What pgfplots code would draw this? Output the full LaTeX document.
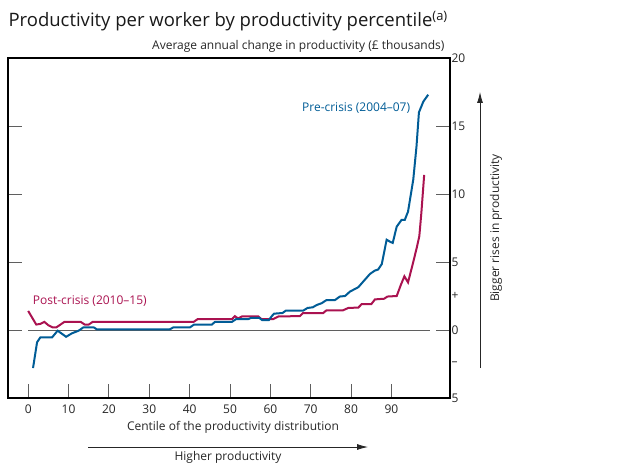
\documentclass[border=0pt]{standalone}
\usepackage{fontspec}
\setmainfont{Open Sans}
\usepackage{pgfplots}
\pgfplotsset{compat=1.18}
\usetikzlibrary{arrows.meta}
\definecolor{preblue}{RGB}{0,92,150}
\definecolor{postred}{RGB}{170,18,80}
\definecolor{tickgray}{RGB}{95,95,95}
\begin{document}
\begin{tikzpicture}
\path[use as bounding box] (0pt,0pt) rectangle (620pt,463pt);
\begin{axis}[
  at={(8pt,65pt)}, anchor=south west,
  width=442pt, height=340pt, scale only axis,
  xmin=-5, xmax=104.5, ymin=-5, ymax=20,
  axis line style={black, line width=1.1pt},
  xtick={0,10,...,90},
  ytick={-5,0,5,10,15,20},
  yticklabels={5,0,5,10,15,20},
  extra y ticks={2.5,-2.5},
  extra y tick labels={+,--},
  extra y tick style={major tick length=0pt},
  tick align=inside,
  xtick pos=lower, yticklabel pos=right, ytick pos=both,
  major tick length=14pt,
  tick style={tickgray, line width=1pt},
  tick label style={font=\fontsize{12}{14}\selectfont, text=black!85},
  xticklabel style={yshift=-3pt},
  yticklabel style={xshift=-2pt},
  /pgf/number format/assume math mode=true,
  clip=false,
]
\addplot[tickgray, line width=1pt] coordinates {(0,0) (99.5,0)};
% Post-crisis (2010-15)
\addplot[postred, line width=2pt] coordinates {
(0,1.4) (1,0.9) (2,0.4) (3,0.45) (4,0.6) (5,0.35) (6,0.2) (7,0.2) (8,0.4) (9,0.6)
(13,0.6) (14,0.4) (15,0.4) (16,0.6) (41,0.6) (42,0.8) (50.5,0.8) (51.2,1.02)
(52,0.85) (53,1.0) (57,1.0) (57.8,0.8) (60.7,0.8) (62,1.0) (67.3,1.02) (68.1,1.25)
(73.1,1.25) (73.9,1.45) (78,1.45) (79.3,1.62) (81.8,1.65) (82.6,1.9) (85,1.9)
(85.9,2.25) (88.2,2.3) (89,2.46) (91.3,2.5) (92.3,3.3) (93.2,3.95) (94.1,3.5)
(95.4,5.0) (96.3,6.1) (96.9,6.9) (97.4,8.6) (98.1,11.4)
};
% Pre-crisis (2004-07)
\addplot[preblue, line width=2pt] coordinates {
(1.2,-2.8) (2.2,-0.9) (3,-0.55) (5.9,-0.55) (7.3,-0.05) (9.4,-0.5) (10.8,-0.25)
(12.5,-0.05) (13.7,0.2) (16.2,0.2) (17,0.05) (35.1,0.05) (36,0.2) (40.1,0.2)
(41.1,0.4) (45.5,0.4) (46.3,0.6) (50.5,0.6) (51.5,0.8) (54.5,0.8) (55.3,0.9)
(57.2,0.9) (58,0.72) (59.6,0.72) (60.3,1.0) (60.9,1.2) (63,1.25) (63.8,1.42)
(68.1,1.42) (69.2,1.62) (70.5,1.67) (71.5,1.84) (72.7,1.97) (73.9,2.2) (76,2.2)
(77.2,2.46) (78.5,2.5) (79.7,2.82) (81.8,3.15) (83,3.56) (84.7,4.13) (85.9,4.37)
(86.7,4.45) (87.6,4.85) (88.8,6.64) (89.6,6.5) (90.3,6.4) (91.3,7.6) (92.5,8.1)
(93.3,8.1) (94.1,8.7) (95.4,11.06) (96.2,13.5) (96.8,16.0) (97.9,16.8) (99.1,17.3)
};
\node[anchor=east, text=preblue, font=\fontsize{12}{14}\selectfont] at (axis cs:95.5,16.3) {Pre-crisis (2004--07)};
\node[anchor=west, text=postred, font=\fontsize{12}{14}\selectfont] at (axis cs:0.3,2.1) {Post-crisis (2010--15)};
\end{axis}
\node[anchor=west, font=\fontsize{18.5}{22}\selectfont, text=black!90] at (5pt,442pt) {Productivity per worker by productivity percentile\textsuperscript{(a)}};
\node[anchor=east, font=\fontsize{12}{14}\selectfont, text=black!85] at (448pt,417pt) {Average annual change in productivity (£ thousands)};
\node[font=\fontsize{12}{14}\selectfont, text=black!85] at (233pt,36pt) {Centile of the productivity distribution};
\draw[-{Latex[length=11pt,width=6pt]}, line width=0.8pt, black!85] (88pt,16pt) -- (368pt,16pt);
\node[font=\fontsize{12}{14}\selectfont, text=black!85] at (228pt,6pt) {Higher productivity};
\draw[-{Latex[length=11pt,width=6pt]}, line width=0.8pt, black!85] (480pt,95pt) -- (480pt,371pt);
\node[rotate=90, font=\fontsize{12}{14}\selectfont, text=black!85] at (496pt,235pt) {Bigger rises in productivity};
\end{tikzpicture}
\end{document}
